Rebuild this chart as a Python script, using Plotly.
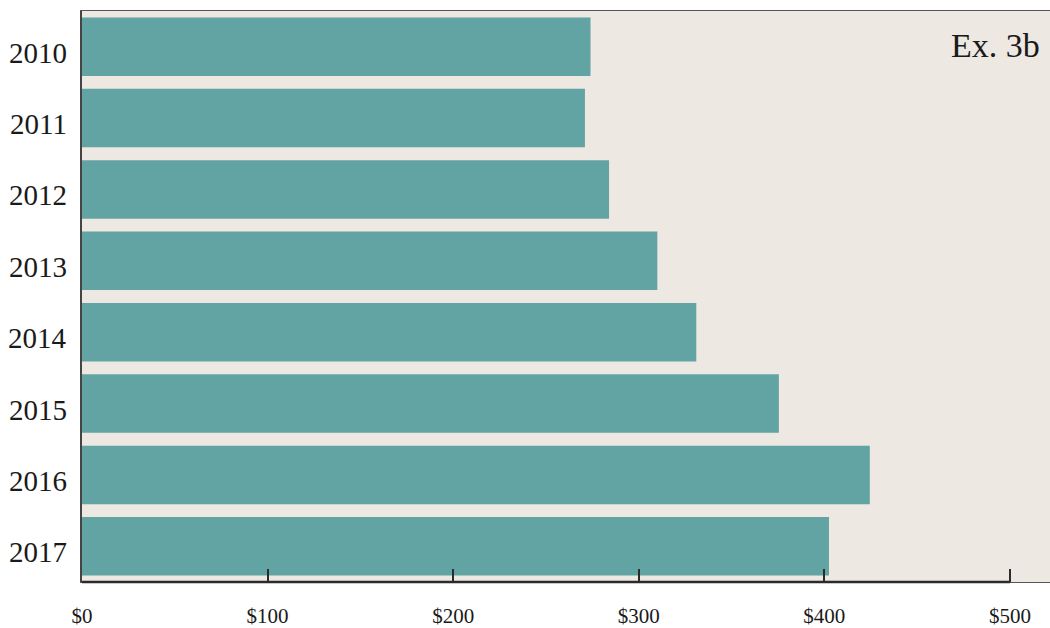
import plotly.graph_objects as go

years = ["2010", "2011", "2012", "2013", "2014", "2015", "2016", "2017"]
values = [274, 271, 284, 310, 331, 375.5, 424.5, 402.5]
tick_vals = [0, 100, 200, 300, 400, 500]
tick_text = ["$0", "$100", "$200", "$300", "$400", "$500"]

BAR = "#62a3a3"
BG = "#ede8e1"
LINE = "#2b2b2b"
FONT = "Liberation Serif"

fig = go.Figure(go.Bar(
    y=years, x=values, orientation="h",
    marker=dict(color=BAR, line=dict(width=0)),
    hoverinfo="x+y",
))

# year labels as annotations (category index positions), nudged slightly down like the reference
year_labels = [dict(
    text=y, xref="paper", yref="y", x=0, y=i,
    xanchor="right", yanchor="middle", xshift=-13, yshift=-6,
    showarrow=False, font=dict(family=FONT, size=29, color="#1a1a1a"),
) for i, y in enumerate(years)]

fig.update_layout(
    width=1050, height=628,
    margin=dict(l=82, r=0, t=11, b=46),
    paper_bgcolor="white", plot_bgcolor=BG,
    bargap=0.18,
    showlegend=False,
    font=dict(family=FONT, color="#1a1a1a"),
    xaxis=dict(
        range=[0, 521.6], tickvals=tick_vals, ticktext=tick_text,
        showgrid=False, zeroline=False, automargin=False,
        showline=True, linecolor="#555555", linewidth=1, mirror=True,
        ticks="inside", ticklen=13, tickwidth=2, tickcolor=LINE,
        tickfont=dict(family=FONT, size=21, color="#1a1a1a"),
        ticklabelstandoff=15,
    ),
    yaxis=dict(
        type="category", categoryorder="array", categoryarray=years,
        range=[len(years) - 0.5, -0.5],
        showgrid=False, zeroline=False, automargin=False,
        showline=True, linecolor="#444444", linewidth=2,
        ticks="", showticklabels=False,
    ),
    shapes=[dict(
        type="line", xref="x", yref="y domain",
        x0=0, x1=500, y0=0, y1=0,
        line=dict(color=LINE, width=2.5),
    )],
    annotations=year_labels + [dict(
        text="Ex. 3b", xref="paper", yref="paper",
        x=0.992, y=0.94, xanchor="right", yanchor="middle",
        showarrow=False, font=dict(family=FONT, size=34, color="#1a1a1a"),
    )],
)

fig.write_html(
    "out.html",
    config={"displayModeBar": False},
    post_script="document.body.style.margin='0px';document.body.style.overflow='hidden';",
)
